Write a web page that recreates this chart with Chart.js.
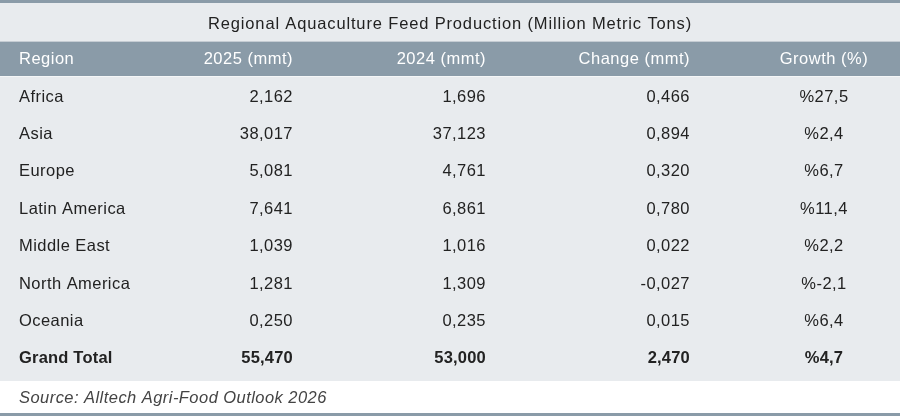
<!DOCTYPE html>
<html>
<head>
<meta charset="utf-8">
<title>Regional Aquaculture Feed Production</title>
<script src="https://cdn.jsdelivr.net/npm/chart.js@4"></script>
<style>
  html, body { margin: 0; padding: 0; background: #ffffff; }
  canvas { display: block; }
</style>
</head>
<body>
<canvas id="feedTable" width="900" height="416"></canvas>
<script>
// table data (million metric tons)
const regions = ['Africa', 'Asia', 'Europe', 'Latin America', 'Middle East', 'North America', 'Oceania', 'Grand Total'];
const prod2025 = [2.162, 38.017, 5.081, 7.641, 1.039, 1.281, 0.250, 55.470];
const prod2024 = [1.696, 37.123, 4.761, 6.861, 1.016, 1.309, 0.235, 53.000];
const change = [0.466, 0.894, 0.320, 0.780, 0.022, -0.027, 0.015, 2.470];
const growth = [27.5, 2.4, 6.7, 11.4, 2.2, -2.1, 6.4, 4.7];
const headers = ['Region', '2025 (mmt)', '2024 (mmt)', 'Change (mmt)', 'Growth (%)'];
const titleText = 'Regional Aquaculture Feed Production (Million Metric Tons)';
const sourceText = 'Source: Alltech Agri-Food Outlook 2026';

document.addEventListener('DOMContentLoaded', () => {

    if (typeof Chart === 'undefined') {
        console.error("Chart.js failed to load.");
        return;
    }

    const ctx = document.getElementById('feedTable');
    if (!ctx) return;

    // colours
    const bandColor = '#8a9ba8';
    const panelColor = '#e8ebee';
    const textColor = '#222222';
    const fontFamily = "'Liberation Sans', Arial, sans-serif";
    const fontSize = '16.5px ';

    // column anchors on the x scale (0..900) and alignment
    const columns = [
        { x: 19, align: 'left' },
        { x: 293, align: 'right' },
        { x: 486, align: 'right' },
        { x: 690, align: 'right' },
        { x: 824, align: 'center' }
    ];

    const fmt3 = v => v.toFixed(3).replace('.', ',');
    const fmtPct = v => '%' + v.toFixed(1).replace('.', ',');

    const cellText = (row, col) => {
        if (col === 0) return regions[row];
        if (col === 1) return fmt3(prod2025[row]);
        if (col === 2) return fmt3(prod2024[row]);
        if (col === 3) return fmt3(change[row]);
        return fmtPct(growth[row]);
    };

    const tablePlugin = {
        id: 'tablePlugin',
        beforeDraw(chart) {
            const c = chart.ctx;
            const w = chart.width;
            const yScale = chart.scales.y;
            const step = yScale.getPixelForValue(1) - yScale.getPixelForValue(0);
            const headTop = yScale.getPixelForValue(-1) - step / 2;
            const lastBottom = yScale.getPixelForValue(regions.length - 1) + step / 2;

            c.save();
            c.fillStyle = '#ffffff';
            c.fillRect(0, 0, w, chart.height);
            // light panel behind title and rows
            c.fillStyle = panelColor;
            c.fillRect(0, 0, w, lastBottom + 5);
            // top and bottom rules
            c.fillStyle = bandColor;
            c.fillRect(0, 0, w, 3);
            c.fillRect(0, chart.height - 3, w, 3);
            // header band
            c.fillRect(0, headTop + 2, w, step - 3);
            c.fillStyle = '#f4f6f7';
            c.fillRect(0, headTop + step - 1, w, 1);
            c.restore();
        },
        afterDatasetsDraw(chart) {
            const c = chart.ctx;
            const xScale = chart.scales.x;
            const yScale = chart.scales.y;
            const step = yScale.getPixelForValue(1) - yScale.getPixelForValue(0);

            c.save();
            c.textBaseline = 'middle';

            // title
            c.font = fontSize + fontFamily;
            c.letterSpacing = '0.85px';
            c.fillStyle = textColor;
            c.textAlign = 'center';
            c.fillText(titleText, xScale.getPixelForValue(450), yScale.getPixelForValue(-1) - step + 3.5);

            // header row
            c.letterSpacing = '0.5px';
            const headY = yScale.getPixelForValue(-1) + 1.5;
            c.fillStyle = '#ffffff';
            headers.forEach((h, j) => {
                c.textAlign = columns[j].align;
                c.fillText(h, xScale.getPixelForValue(columns[j].x), headY);
            });

            // body rows
            c.fillStyle = textColor;
            regions.forEach((r, i) => {
                const y = yScale.getPixelForValue(i) + 1.5;
                const bold = i === regions.length - 1;
                c.font = (bold ? 'bold ' : '') + fontSize + fontFamily;
                c.letterSpacing = bold ? '0.2px' : '0.45px';
                columns.forEach((col, j) => {
                    c.textAlign = col.align;
                    c.fillText(cellText(i, j), xScale.getPixelForValue(col.x), y);
                });
            });

            // source note
            c.font = 'italic ' + fontSize + fontFamily;
            c.letterSpacing = '0.45px';
            c.fillStyle = '#444444';
            c.textAlign = 'left';
            c.fillText(sourceText, xScale.getPixelForValue(19), 398);
            c.restore();
        }
    };

    const config = {
        type: 'bar',
        data: {
            labels: regions,
            datasets: [{
                label: '2025 (mmt)',
                data: prod2025,
                backgroundColor: 'rgba(0,0,0,0)',
                borderWidth: 0
            }]
        },
        options: {
            indexAxis: 'y',
            responsive: false,
            animation: false,
            layout: {
                padding: { top: 77, bottom: 40, left: 0, right: 0 }
            },
            plugins: {
                legend: { display: false },
                tooltip: { enabled: false }
            },
            scales: {
                x: { type: 'linear', min: 0, max: 900, display: false },
                y: { type: 'category', display: false, offset: true }
            }
        },
        plugins: [tablePlugin]
    };

    new Chart(ctx, config);
});
</script>
</body>
</html>
